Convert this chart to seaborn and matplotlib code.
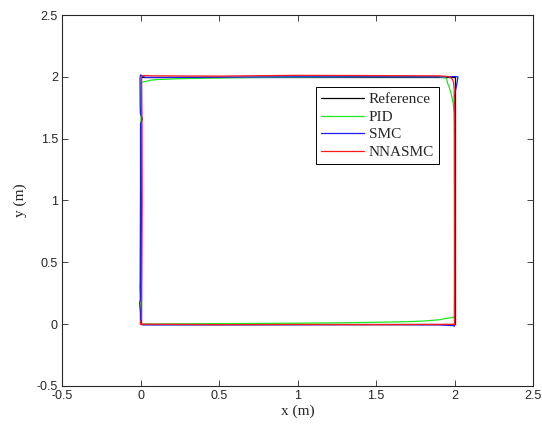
import numpy as np
import pandas as pd
import matplotlib
matplotlib.use("Agg")
import matplotlib.pyplot as plt
import seaborn as sns

# Trajectory data (x, y in metres)
ref_x = [0, 2, 2, 0, 0]
ref_y = [0, 0, 2, 2, 0]

pid_x = [0.0, 0.3, 0.8, 1.2, 1.5, 1.7, 1.8, 1.85, 1.9, 1.93, 1.95, 1.97, 1.99, 2.0,
         2.0, 2.0, 1.995, 1.99, 1.985, 1.975, 1.965, 1.955, 1.95, 1.9, 1.5, 1.0,
         0.7, 0.45, 0.25, 0.15, 0.1, 0.07, 0.05, 0.03, 0.012, 0.004, 0.003, 0.0,
         -0.004, -0.006, -0.003, 0.0]
pid_y = [0.0, 0.003, 0.006, 0.01, 0.015, 0.02, 0.025, 0.03, 0.035, 0.042, 0.047, 0.05,
         0.055, 0.06, 1.0, 1.7, 1.75, 1.8, 1.83, 1.88, 1.92, 1.95, 1.99, 2.0, 2.0, 1.997,
         1.995, 1.99, 1.985, 1.98, 1.978, 1.974, 1.968, 1.962, 1.958, 1.95, 1.5, 1.0,
         0.35, 0.3, 0.25, 0.0]

smc_x = [0.0, 0.02, 0.5, 1.0, 1.5, 1.9, 1.99, 2.0, 2.0, 2.0, 2.0, 2.008, 2.016, 2.022,
         2.0, 1.95, 1.5, 1.0, 0.5, 0.15, 0.03, 0.0, -0.003, -0.002, 0.0, 0.012,
         0.0, 0.0, -0.006, 0.0, 0.0]
smc_y = [0.0, -0.006, -0.006, -0.005, -0.004, -0.006, -0.012, -0.016, 0.5, 1.5, 1.85, 1.9,
         1.95, 2.0, 2.002, 2.0, 2.0, 2.0, 1.998, 1.995, 1.995, 2.015, 1.99, 1.75,
         1.7, 1.66, 1.62, 0.2, 0.17, 0.1, 0.0]

nna_x = [0.0, 0.5, 1.0, 1.5, 2.0, 2.001, 2.0, 1.998, 1.994, 1.988, 1.98, 1.96, 1.9, 1.5,
         1.0, 0.5, 0.1, 0.02, 0.006, 0.009, 0.01, 0.008, 0.006, 0.0]
nna_y = [0.0, -0.004, -0.003, -0.004, -0.002, 0.5, 1.5, 1.9, 1.95, 1.975, 1.99, 2.003,
         2.008, 2.01, 2.012, 2.006, 2.008, 2.01, 2.0, 1.6, 1.0, 0.5, 0.05, 0.0]

series = [("Reference", ref_x, ref_y, "black"),
          ("PID", pid_x, pid_y, "#1ee81e"),
          ("SMC", smc_x, smc_y, "#1a1aff"),
          ("NNASMC", nna_x, nna_y, "#ff1a1a")]

sns.set_style("white")
plt.rcParams["font.family"] = ["Liberation Sans", "DejaVu Sans"]

fig, ax = plt.subplots(figsize=(5.42, 4.25), dpi=100)
fig.subplots_adjust(left=0.1144, right=0.9834, top=0.9647, bottom=0.0918)

for name, xs, ys, col in series:
    df = pd.DataFrame({"x": xs, "y": ys})
    sns.lineplot(data=df, x="x", y="y", sort=False, estimator=None, color=col,
                 linewidth=0.9, label=name, ax=ax)

ax.set_xlim(-0.5, 2.5)
ax.set_ylim(-0.5, 2.5)
ax.set_xticks(np.arange(-0.5, 2.51, 0.5))
ax.set_yticks(np.arange(-0.5, 2.51, 0.5))
ax.set_xticklabels(["-0.5", "0", "0.5", "1", "1.5", "2", "2.5"])
ax.set_yticklabels(["-0.5", "0", "0.5", "1", "1.5", "2", "2.5"])
ax.tick_params(direction="in", length=4, width=0.6, labelsize=9, colors="#262626",
               top=True, right=True, bottom=True, left=True, pad=3)
for sp in ax.spines.values():
    sp.set_color("#262626")
    sp.set_linewidth(0.8)

ax.set_xlabel("x (m)", family="Liberation Serif", fontsize=11, labelpad=2)
ax.set_ylabel("y (m)", family="Liberation Serif", fontsize=11, labelpad=7)

leg = ax.legend(loc="upper left", bbox_to_anchor=(0.539, 0.805), frameon=True,
                fancybox=False, edgecolor="black", framealpha=1,
                prop={"family": "Liberation Serif", "size": 11},
                handlelength=2.8, handletextpad=0.3, borderpad=0.35,
                labelspacing=0.25, borderaxespad=0)
leg.get_frame().set_linewidth(0.7)

fig.savefig("out.png", dpi=100)
